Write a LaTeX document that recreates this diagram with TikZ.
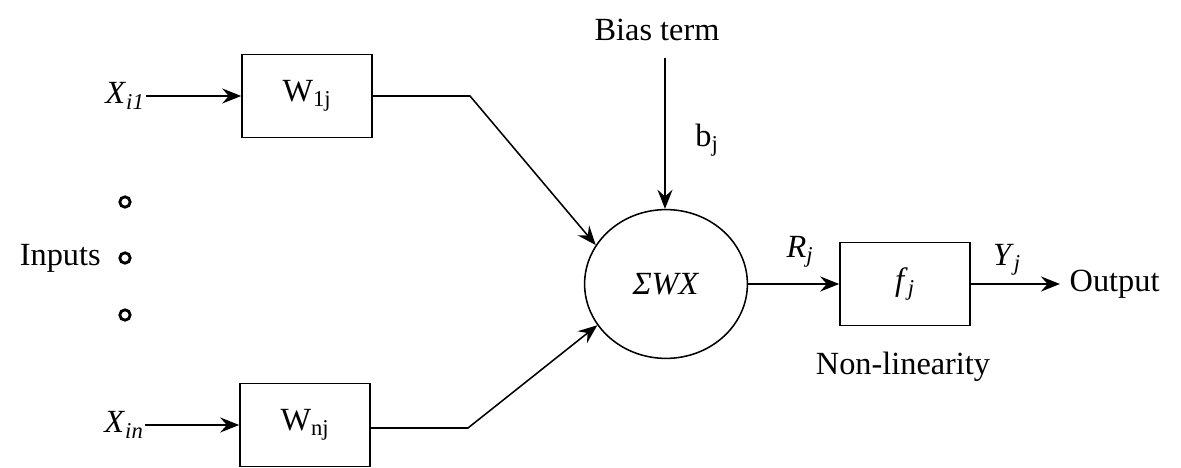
\documentclass[tikz,border=0pt]{standalone}
\usepackage{fontspec}
\setmainfont{Liberation Serif}
\usepackage{tikz}
\usetikzlibrary{arrows.meta,positioning,shapes.geometric}

\begin{document}
\begin{tikzpicture}[
  font=\fontsize{23}{27}\selectfont,
  wbox/.style={draw, line width=1.1pt, minimum width=32.5mm, minimum height=20.7mm,
               inner sep=0pt},
  sumnode/.style={draw, ellipse, line width=1.1pt, minimum width=40.7mm,
                  minimum height=37.2mm, inner sep=0pt},
  dotin/.style={circle, draw, line width=2pt, minimum size=2.6mm, inner sep=0pt},
  lbl/.style={inner sep=1pt},
  arr/.style={line width=1.1pt, -{Stealth[length=4.8mm, width=3.8mm, inset=1.7mm]}},
  ln/.style={line width=1.1pt}
]
\useasboundingbox (0,0) rectangle (29.525,-11.7);

% weights
\node[wbox] (w1) at (7.675,-2.4)   {W\textsubscript{1j}};
\node[wbox] (wn) at (7.625,-10.625) {W\textsubscript{nj}};

% inputs
\node[lbl] (xi1) at (3.125,-2.4)   {\textit{X}\textsubscript{\textit{i1}}};
\node[lbl] (xin) at (3.1,-10.625)  {\textit{X}\textsubscript{\textit{in}}};
\node[dotin] (d1) at (3.125,-5.05) {};
\node[dotin] (d2) at (3.125,-6.45) {};
\node[dotin] (d3) at (3.125,-7.875) {};
\node[lbl, left=4mm of d2] (inp) {Inputs};

% summation and non-linearity
\node[sumnode] (sum) at (16.65,-7.1) {\textit{ΣWX}};
\node[wbox] (fj) at (22.625,-7.1) {\textit{f}\textsubscript{\textit{j}}};
\node[lbl] (nonlin) at (22.575,-9.175) {Non-linearity};

% bias
\node[lbl] (bias) at (16.425,-0.75) {Bias term};
\coordinate (btop) at (16.625,-1.45);
\node[lbl] (bj) at (17.675,-3.5) {b\textsubscript{j}};

% output
\coordinate (oend) at (26.5,-7.1);
\node[lbl, right=2mm of oend] (out) {Output};
\node[lbl] (rj) at (20,-6.3) {\textit{R}\textsubscript{\textit{j}}};
\node[lbl] (yj) at (25.175,-6.5) {\textit{Y}\textsubscript{\textit{j}}};

\coordinate (k1) at (11.75,-2.4);
\coordinate (kn) at (11.7,-10.7);

\draw[arr] (xi1.east) -- (w1.west);
\draw[arr] (xin.east) -- (wn.west);
\draw[arr] (w1.east) -- (k1) -- (sum.151);
\draw[arr] (wn.east |- kn) -- (kn) -- (sum.211);
\draw[arr] (btop) -- (btop |- sum.north);
\draw[arr] (sum.east) -- (fj.west);
\draw[arr] (fj.east) -- (oend);
\end{tikzpicture}
\end{document}
